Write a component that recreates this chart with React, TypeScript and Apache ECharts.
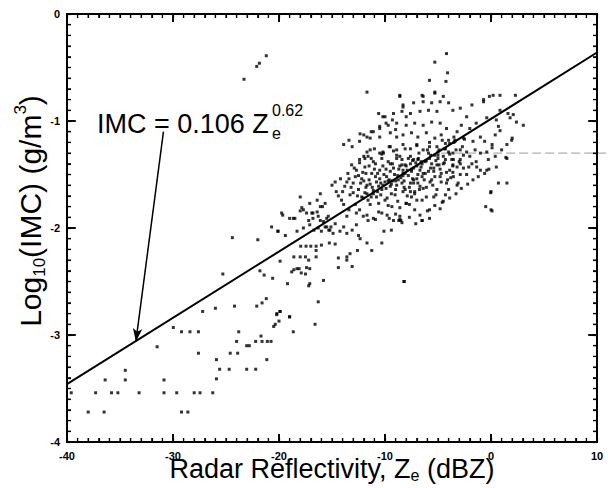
import React, { useEffect, useRef } from "react";
import * as echarts from "echarts";

// Axis ranges and tick spacing
const xRange = [-40, 10];
const yRange = [-4, 0];
const xMajorStep = 10;
const yMajorStep = 1;
const xMinorStep = 1;
const yMinorStep = 0.1;

// Fit line IMC = 0.106 Ze^0.62 (endpoints)
const fitLine = [
  [-40, -3.46],
  [10, -0.36],
];

// Arrow from label to fit line
const arrowFrom = [-30.9, -1.1];
const arrowTo = [-33.5, -3.06];

// Gray dashed trace at log10(IMC) = -1.3 (starts near -4.7 dBZ, runs off the right edge)
const dashedTraceY = -1.3;
const dashedTraceStartX = -4.7;

// Scatter points, grouped by region
const farTail = [
  [-29.97, -2.93], [-29.2, -2.97], [-28.4, -2.97], [-27.6, -2.97], [-31.5, -3.11], [-27.6, -3.17],
  [-34.5, -3.33], [-36.4, -3.42], [-34.5, -3.42], [-30.85, -3.42], [-39.6, -3.54], [-37.3, -3.54],
  [-35.8, -3.54], [-35.2, -3.54], [-33.2, -3.54], [-30.85, -3.54], [-29.65, -3.54], [-28.0, -3.54],
  [-38.0, -3.72], [-36.5, -3.72], [-29.2, -3.72], [-28.6, -3.72],
];

const midTail = [
  [-20.22, -2.81], [-19.9, -2.78], [-19.0, -2.83], [-20.0, -2.87], [-20.35, -2.9], [-20.5, -2.92],
  [-16.6, -2.9], [-18.65, -2.97], [-23.8, -2.97], [-21.7, -3.01], [-24.0, -3.06], [-22.2, -3.06],
  [-21.6, -3.06], [-21.1, -3.06], [-20.75, -3.06], [-23.05, -3.1], [-22.8, -3.1], [-24.6, -3.17],
  [-23.9, -3.17], [-25.9, -3.23], [-21.15, -3.23], [-25.6, -3.32], [-24.7, -3.32], [-23.05, -3.32],
  [-22.2, -3.32], [-25.9, -3.41], [-27.45, -3.54], [-26.25, -3.54],
];

const leftTail = [
  [-26.0, -2.75], [-27.2, -2.78], [-24.2, -2.73], [-22.1, -2.73], [-21.6, -2.7], [-21.2, -2.66],
  [-20.2, -2.8], [-19.9, -2.78], [-19.0, -2.83], [-19.2, -2.52], [-17.2, -2.54], [-17.1, -2.52],
  [-16.3, -2.69], [-15.8, -2.49], [-14.4, -2.37], [-13.6, -2.3], [-13.1, -2.36], [-14.4, -2.28],
  [-13.6, -2.27], [-13.3, -2.24], [-25.3, -2.43], [-21.8, -2.4], [-21.4, -2.44], [-20.6, -2.47],
  [-19.9, -2.31], [-18.8, -2.41], [-18.6, -2.39], [-18.3, -2.38], [-18.1, -2.38], [-17.9, -2.42],
  [-17.5, -2.43], [-17.4, -2.37], [-17.1, -2.38], [-18.6, -2.27], [-18.0, -2.27], [-17.5, -2.27],
  [-17.2, -2.3], [-16.5, -2.27], [-16.5, -2.21], [-17.95, -2.17], [-17.45, -2.17], [-17.0, -2.17],
  [-16.5, -2.17], [-16.0, -2.16], [-15.25, -2.14], [-14.7, -2.15], [-24.4, -2.09], [-22.0, -2.11],
  [-20.7, -1.99], [-20.1, -2.03], [-19.4, -2.07], [-19.65, -1.88], [-19.0, -1.91], [-18.5, -1.91],
  [-18.3, -2.03], [-18.0, -1.84], [-17.85, -1.81], [-17.4, -1.86], [-16.9, -1.86], [-16.4, -1.85],
  [-15.9, -1.8], [-15.65, -1.77], [-16.4, -1.74], [-16.1, -1.68], [-20.1, -2.03], [-19.75, -1.86],
  [-18.65, -1.91], [-18.0, -1.71], [-17.7, -1.83], [-17.1, -1.77], [-16.8, -1.86], [-16.3, -1.89],
  [-16.1, -1.8], [-15.8, -1.94], [-15.5, -1.99], [-15.35, -1.89], [-15.2, -2.02],
];

const lowerFringe = [
  [-17.1, -1.97], [-16.7, -2.02], [-16.3, -2.0], [-16.0, -2.03], [-15.65, -1.99], [-15.3, -2.02],
  [-15.1, -1.99], [-14.9, -2.05], [-14.25, -2.03], [-13.6, -2.05], [-13.1, -2.02], [-12.5, -2.07],
  [-12.35, -2.1], [-12.6, -2.21], [-11.7, -2.14], [-11.25, -2.21], [-10.3, -2.14], [-10.1, -2.03],
  [-9.4, -2.02], [-8.7, -1.93], [-8.2, -2.5], [-9.8, -1.88], [-9.2, -1.93], [-12.05, -1.89],
  [-11.6, -1.93], [-11.1, -1.91], [-12.7, -1.97], [-13.9, -1.99], [-14.7, -1.96], [-15.5, -1.91],
  [-16.1, -1.93], [-16.8, -1.91], [-17.2, -1.93], [-17.7, -2.0], [-5.8, -1.83], [-6.5, -1.93],
  [-8.6, -1.92], [-4.8, -1.82], [-5.8, -1.91], [-6.5, -1.93], [-8.5, -1.93], [-13.6, -1.89],
  [-12.4, -1.83], [-10.6, -1.85], [-9.35, -1.8], [-8.6, -1.89], [-7.2, -1.83],
];

const core = [
  [-15.0, -1.6], [-14.7, -1.57], [-14.6, -1.66], [-14.2, -1.54], [-14.1, -1.74], [-13.8, -1.61],
  [-13.5, -1.49], [-13.3, -1.69], [-13.15, -1.41], [-13.0, -1.58], [-12.8, -1.78], [-12.7, -1.46],
  [-12.5, -1.64], [-12.4, -1.36], [-12.2, -1.54], [-12.05, -1.72], [-11.9, -1.43], [-11.7, -1.6],
  [-11.6, -1.33], [-11.4, -1.78], [-11.25, -1.49], [-11.1, -1.68], [-10.9, -1.4], [-10.8, -1.57],
  [-10.5, -1.46], [-10.3, -1.64], [-10.15, -1.3], [-10.0, -1.74], [-9.85, -1.52], [-9.7, -1.38],
  [-9.5, -1.61], [-9.2, -1.44], [-9.05, -1.69], [-8.9, -1.32], [-8.75, -1.55], [-8.4, -1.41],
  [-8.3, -1.66], [-8.1, -1.49], [-8.0, -1.77], [-7.8, -1.35], [-7.6, -1.58], [-7.5, -1.71],
  [-7.3, -1.44], [-7.0, -1.54], [-6.9, -1.36], [-6.75, -1.64],
  [-12.8, -1.52], [-12.3, -1.58], [-11.8, -1.49], [-11.5, -1.55], [-11.2, -1.62], [-10.9, -1.52],
  [-10.7, -1.66], [-10.4, -1.58], [-10.1, -1.5], [-9.9, -1.63], [-9.6, -1.55], [-9.4, -1.68],
  [-9.1, -1.5], [-8.9, -1.6], [-8.7, -1.45], [-8.5, -1.53], [-8.2, -1.62], [-8.0, -1.42],
  [-7.8, -1.51], [-7.5, -1.47], [-7.3, -1.58], [-7.1, -1.39], [-6.9, -1.5], [-6.6, -1.43],
  [-6.3, -1.55], [-6.1, -1.37], [-5.9, -1.47], [-5.6, -1.4], [-5.3, -1.52], [-5.0, -1.35],
  [-4.8, -1.45], [-4.5, -1.33], [-4.2, -1.48], [-3.9, -1.31], [-3.6, -1.42], [-3.3, -1.27],
  [-3.0, -1.38], [-2.7, -1.24],
  [-13.2, -1.62], [-12.6, -1.7], [-12.1, -1.48], [-11.6, -1.74], [-11.0, -1.45], [-10.6, -1.77],
  [-10.2, -1.42], [-9.8, -1.72], [-9.3, -1.4], [-8.8, -1.75], [-8.4, -1.36], [-7.9, -1.7],
  [-7.6, -1.33], [-7.2, -1.66], [-6.8, -1.3], [-6.4, -1.63], [-6.0, -1.27], [-5.5, -1.6],
  [-5.1, -1.24], [-4.7, -1.57], [-4.3, -1.21], [-3.8, -1.53], [-3.4, -1.19], [-2.9, -1.5],
  [-2.5, -1.17],
  [-12.9, -1.44], [-12.4, -1.39], [-11.9, -1.67], [-11.3, -1.35], [-10.8, -1.71], [-10.3, -1.31],
  [-9.7, -1.79], [-9.2, -1.28], [-8.6, -1.81], [-8.1, -1.26], [-7.7, -1.78], [-7.0, -1.23],
  [-6.5, -1.74], [-5.8, -1.2], [-5.2, -1.69], [-4.6, -1.18], [-4.0, -1.64], [-3.5, -1.15],
  [-3.1, -1.58],
  [-12.0, -1.56], [-11.4, -1.59], [-10.5, -1.54], [-10.0, -1.57], [-9.5, -1.47], [-9.0, -1.56],
  [-8.3, -1.49], [-7.4, -1.54], [-6.7, -1.46], [-6.2, -1.49], [-5.7, -1.44], [-5.4, -1.47],
  [-4.9, -1.41], [-4.4, -1.39], [-3.7, -1.36], [-13.6, -1.57], [-14.0, -1.66], [-14.4, -1.7],
  [-13.9, -1.78], [-13.4, -1.83], [-12.7, -1.86], [-11.7, -1.88], [-10.9, -1.92], [-10.3, -1.86],
  [-9.6, -1.91], [-9.0, -1.87], [-8.4, -1.95], [-7.7, -1.9], [-7.1, -1.96], [-6.7, -1.88],
  [-6.0, -1.84], [-5.3, -1.79], [-4.6, -1.76], [-3.9, -1.72], [-3.3, -1.68], [-2.8, -1.63],
  [-2.2, -1.59], [-1.7, -1.55], [-1.2, -1.52], [-0.6, -1.49], [-0.2, -1.45],
  [-12.2, -1.71], [-11.7, -1.68], [-11.1, -1.65], [-10.6, -1.61], [-10.2, -1.6], [-9.7, -1.56],
  [-9.3, -1.56], [-8.8, -1.51], [-8.3, -1.51], [-7.9, -1.46], [-7.5, -1.45], [-7.0, -1.42],
  [-6.6, -1.38], [-6.2, -1.38], [-5.7, -1.32], [-5.3, -1.32], [-4.9, -1.27], [-4.4, -1.26],
  [-3.9, -1.21], [-3.5, -1.2],
  [0.7, -1.58], [-0.03, -1.67], [0.1, -1.84], [1.5, -1.35], [-4.3, -1.69], [-3.2, -1.6],
  [-2.3, -1.5], [-1.35, -1.43], [-0.25, -1.36], [0.4, -1.33], [-1.0, -1.46], [-1.8, -1.4],
  [-2.6, -1.44], [-3.55, -1.52], [-4.2, -1.58], [-5.1, -1.64], [-6.1, -1.71], [-7.0, -1.74],
  [-8.0, -1.77], [-7.6, -1.66], [-6.7, -1.61], [-5.75, -1.57], [-4.8, -1.52], [-3.9, -1.46],
  [-2.9, -1.4], [-2.0, -1.33], [-1.0, -1.3], [-0.4, -1.29], [-7.3, -1.55], [-6.4, -1.49],
  [-5.4, -1.44], [-4.5, -1.4], [-3.55, -1.36], [-2.6, -1.32], [-8.3, -1.46], [-7.6, -1.4],
  [-6.85, -1.35], [-5.9, -1.3], [-5.0, -1.32], [-4.0, -1.29], [-8.1, -1.64], [-7.2, -1.68],
  [-5.4, -1.71], [-4.5, -1.75], [-8.4, -1.58],
  [-11.8, -1.62], [-11.3, -1.71], [-10.7, -1.49], [-10.4, -1.69], [-9.9, -1.45], [-9.4, -1.59],
  [-9.0, -1.64], [-8.6, -1.42], [-8.2, -1.56], [-7.7, -1.62], [-7.4, -1.37], [-6.9, -1.58],
  [-6.5, -1.52], [-6.1, -1.62], [-5.6, -1.55], [-5.2, -1.37], [-4.7, -1.49], [-4.1, -1.55],
  [-3.6, -1.48], [-3.2, -1.43], [-12.5, -1.51], [-13.0, -1.67], [-13.4, -1.54], [-11.5, -1.42],
];

const upperFringe = [
  [-11.9, -1.35], [-11.1, -1.38], [-10.3, -1.35], [-9.5, -1.4], [-8.9, -1.35], [-8.1, -1.41],
  [-7.3, -1.36], [-6.5, -1.4], [-5.8, -1.35], [-5.1, -1.41], [-4.3, -1.36], [-3.6, -1.41],
  [-2.9, -1.36], [-2.1, -1.43], [-1.4, -1.38], [-0.4, -1.46], [0.5, -1.43], [1.5, -1.58],
  [-1.5, -1.27], [-2.3, -1.29], [-2.9, -1.27], [-3.6, -1.3], [-4.3, -1.26], [-5.0, -1.29],
  [-5.8, -1.24], [-6.4, -1.27], [-7.0, -1.22], [-7.6, -1.26], [-8.3, -1.22], [-8.9, -1.27],
  [-9.5, -1.24], [-10.2, -1.29], [-11.0, -1.26], [-11.7, -1.29], [-12.4, -1.19], [-11.4, -1.16],
  [-10.5, -1.15], [-9.5, -1.11], [-8.9, -1.15], [-8.3, -1.13], [-7.5, -1.11], [-6.9, -1.15],
  [-6.1, -1.11], [-5.3, -1.16], [-4.7, -1.13], [-4.0, -1.18], [-3.4, -1.18], [-2.6, -1.16],
  [-1.7, -1.19], [-1.0, -1.15], [-0.6, -1.19], [0.1, -1.22], [1.0, -1.27], [1.95, -1.18],
  [-12.0, -1.13], [-11.3, -1.1], [-10.5, -1.07], [-9.7, -1.04], [-8.9, -1.02], [-8.0, -1.04],
  [-7.2, -1.02], [-6.4, -1.04], [-5.6, -1.01], [-4.8, -1.02], [-4.2, -1.07], [-3.2, -1.1],
  [-2.8, -1.04], [-2.0, -1.07], [-1.4, -1.02], [-2.3, -0.96], [-0.4, -0.97], [0.5, -0.99],
  [2.4, -1.01], [1.6, -0.93], [0.85, -0.9], [-10.6, -0.93], [-10.0, -0.96], [-9.2, -0.93],
  [-8.4, -0.91], [-7.6, -0.93], [-6.7, -0.91], [-5.9, -0.9], [-5.1, -0.91], [-3.6, -0.9],
  [-2.9, -0.88], [-1.8, -0.85], [-0.7, -0.82], [-7.3, -0.83], [-8.3, -0.85], [-4.0, -0.83],
  [-4.8, -0.82], [-5.6, -0.83], [-6.4, -0.82], [-11.7, -0.73], [-8.6, -0.76], [-6.5, -0.76],
  [-5.3, -0.74], [-4.5, -0.77], [0.2, -0.76], [0.85, -0.76], [2.3, -0.76],
  [-13.9, -1.22], [-13.4, -1.18], [-8.6, -0.77], [-8.3, -0.87], [-10.2, -0.96], [-12.35, -1.12],
  [-11.7, -1.15], [-11.1, -1.1], [-10.5, -1.05], [-9.9, -1.02], [-9.3, -0.99], [-9.0, -1.08],
  [-8.0, -0.96], [-11.4, -1.27], [-10.5, -1.3], [-9.6, -1.24], [-8.6, -1.33], [-12.0, -1.33],
  [-13.1, -1.24],
];

const strays = [
  [-21.2, -0.39], [-21.85, -0.46], [-22.1, -0.49], [-23.3, -0.61], [-4.2, -0.37], [-5.3, -0.45],
  [-4.1, -0.55], [-4.25, -0.63], [-5.8, -0.62], [-6.4, -0.77], [-5.3, -0.73], [-0.7, -0.8],
  [-0.15, -0.77], [1.8, -0.97], [2.1, -0.94], [3.05, -1.04], [2.0, -1.16], [0.7, -1.05],
  [0.85, -1.09], [0.4, -1.13], [1.5, -1.22], [0.1, -1.25], [1.4, -1.34], [0.0, -1.66],
  [0.0, -1.83], [-0.5, -1.8], [-8.2, -2.5],
];

const allPoints = [
  ...farTail, ...midTail, ...leftTail, ...lowerFringe, ...core, ...upperFringe, ...strays,
];

const FONT = "Liberation Sans, Arial, sans-serif";

function stepValues(lo: number, hi: number, step: number) {
  const out: number[] = [];
  const n = Math.round((hi - lo) / step);
  for (let i = 0; i <= n; i++) out.push(+(lo + i * step).toFixed(4));
  return out;
}

function frameAxis(range: number[], interval: number, position: string, major: boolean, showLabel: boolean) {
  return {
    type: "value",
    min: range[0],
    max: range[1],
    interval,
    position,
    axisLine: { show: major, onZero: false, lineStyle: { color: "#000", width: 2 } },
    axisTick: {
      show: true,
      inside: true,
      length: major ? 8 : 4,
      lineStyle: { color: "#000", width: major ? 1.6 : 1.2 },
    },
    splitLine: { show: false },
    axisLabel: showLabel
      ? { show: true, color: "#000", fontSize: 11, fontWeight: "bold", fontFamily: FONT, margin: position === "bottom" ? 8 : 7 }
      : { show: false },
  } as any;
}

export default function App() {
  const ref = useRef<HTMLDivElement>(null);

  useEffect(() => {
    if (!ref.current) return;
    const chart = echarts.init(ref.current, null, { renderer: "svg" });

    const xBottom = frameAxis(xRange, xMajorStep, "bottom", true, true);
    xBottom.name = "{a|Radar Reflectivity, Z}{s|e}{a| (dBZ)}";
    xBottom.nameLocation = "middle";
    xBottom.nameGap = 12;
    xBottom.nameMoveOverlap = false;
    xBottom.nameTextStyle = {
      color: "#000",
      fontFamily: FONT,
      verticalAlign: "top",
      rich: {
        a: { fontSize: 27, fontFamily: FONT, color: "#000", lineHeight: 29 },
        s: { fontSize: 16, fontFamily: FONT, color: "#000", verticalAlign: "bottom", lineHeight: 12 },
      },
    };

    chart.setOption({
      animation: false,
      backgroundColor: "#fff",
      grid: {
        left: 67,
        right: 11,
        top: 14,
        bottom: 46,
        containLabel: false,
        outerBoundsMode: "none",
      },
      xAxis: [
        xBottom,
        frameAxis(xRange, xMajorStep, "top", true, false),
        frameAxis(xRange, xMinorStep, "bottom", false, false),
        frameAxis(xRange, xMinorStep, "top", false, false),
      ],
      yAxis: [
        frameAxis(yRange, yMajorStep, "left", true, true),
        frameAxis(yRange, yMajorStep, "right", true, false),
        frameAxis(yRange, yMinorStep, "left", false, false),
        frameAxis(yRange, yMinorStep, "right", false, false),
      ],
      series: [
        {
          type: "scatter",
          xAxisIndex: 0,
          yAxisIndex: 0,
          data: allPoints,
          symbol: "rect",
          symbolSize: 3,
          itemStyle: { color: "#000" },
          silent: true,
          z: 3,
        },
        {
          type: "line",
          xAxisIndex: 0,
          yAxisIndex: 0,
          data: fitLine,
          showSymbol: false,
          symbol: "none",
          lineStyle: { color: "#000", width: 2 },
          silent: true,
          z: 4,
          markLine: {
            silent: true,
            symbol: ["none", "arrow"],
            symbolSize: [7, 13],
            label: { show: false },
            lineStyle: { color: "#000", width: 1.5, type: "solid" },
            data: [[{ coord: arrowFrom }, { coord: arrowTo }]],
          },
        },
      ],
    });

    // Frame and ticks as thin filled bars, positioned from the axis scales
    const px = (x: number, y: number) => chart.convertToPixel({ gridIndex: 0 }, [x, y]) as number[];
    const tl = px(xRange[0], yRange[1]);
    const br = px(xRange[1], yRange[0]);
    const bars: any[] = [];
    const bar = (x: number, y: number, w: number, h: number) =>
      bars.push({ type: "rect", silent: true, z: 20, shape: { x, y, width: w, height: h }, style: { fill: "#000" } });
    const T = 2;
    bar(tl[0] - 1, tl[1] - 1, br[0] - tl[0] + T, T);
    bar(tl[0] - 1, br[1] - 1, br[0] - tl[0] + T, T);
    bar(tl[0] - 1, tl[1] - 1, T, br[1] - tl[1] + T);
    bar(br[0] - 1, tl[1] - 1, T, br[1] - tl[1] + T);
    stepValues(xRange[0], xRange[1], xMinorStep).forEach((v) => {
      const major = Math.abs(v / xMajorStep - Math.round(v / xMajorStep)) < 1e-6;
      const len = major ? 8 : 4;
      const w = major ? 1.6 : 1.2;
      const p = px(v, yRange[0]);
      bar(p[0] - w / 2, br[1] - len, w, len);
      bar(p[0] - w / 2, tl[1], w, len);
    });
    stepValues(yRange[0], yRange[1], yMinorStep).forEach((v) => {
      const major = Math.abs(v / yMajorStep - Math.round(v / yMajorStep)) < 1e-6;
      const len = major ? 9 : 4;
      const h = major ? 1.6 : 1.2;
      const p = px(xRange[0], v);
      bar(tl[0], p[1] - h / 2, len, h);
      bar(br[0] - len, p[1] - h / 2, len, h);
    });

    const trace = px(dashedTraceStartX, dashedTraceY);

    chart.setOption({
      graphic: [
        ...bars,
        {
          type: "line",
          shape: { x1: trace[0], y1: trace[1], x2: 608, y2: trace[1] },
          style: { stroke: "#9a9a9a", lineWidth: 1, lineDash: [9, 4] },
          silent: true,
          z: 1,
        },
        {
          type: "text",
          x: 97,
          y: 124,
          style: { text: "IMC = 0.106 Z", fontSize: 27, fontFamily: FONT, fill: "#000", align: "left", verticalAlign: "middle" },
          z: 10,
        },
        {
          type: "text",
          x: 272,
          y: 110,
          style: { text: "0.62", fontSize: 16, fontFamily: FONT, fill: "#000", align: "left", verticalAlign: "middle" },
          z: 10,
        },
        {
          type: "text",
          x: 272,
          y: 133,
          style: { text: "e", fontSize: 16, fontFamily: FONT, fill: "#000", align: "left", verticalAlign: "middle" },
          z: 10,
        },
        {
          type: "text",
          x: 30,
          y: 211,
          rotation: Math.PI / 2,
          style: {
            text: "{a|Log}{b|10}{a|(IMC) (g/m}{c|3}{a|)}",
            align: "center",
            verticalAlign: "middle",
            fill: "#000",
            rich: {
              a: { fontSize: 30, fontFamily: FONT, fill: "#000", lineHeight: 36 },
              b: { fontSize: 17, fontFamily: FONT, fill: "#000", verticalAlign: "bottom", lineHeight: 18 },
              c: { fontSize: 17, fontFamily: FONT, fill: "#000", verticalAlign: "top", lineHeight: 18 },
            },
          },
          z: 10,
        },
      ],
    });

    return () => chart.dispose();
  }, []);

  return (
    <div style={{ position: "fixed", left: 0, top: 0, width: 608, height: 488, background: "#fff" }}>
      <div ref={ref} style={{ width: 608, height: 488 }} />
    </div>
  );
}
